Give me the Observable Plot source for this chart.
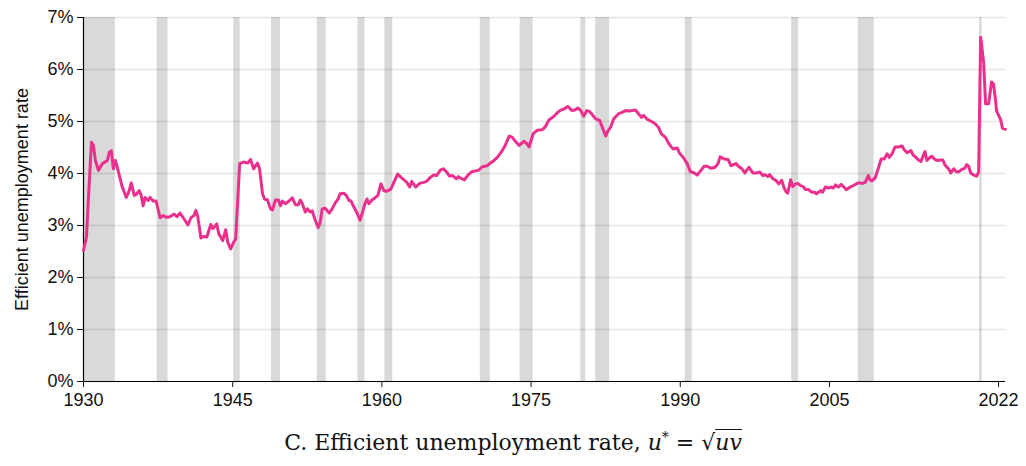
<!DOCTYPE html>
<html>
<head>
<meta charset="utf-8">
<script src="https://cdn.jsdelivr.net/npm/d3@7"></script>
<script src="https://cdn.jsdelivr.net/npm/@observablehq/plot@0.6"></script>
<style>
  html, body { margin: 0; padding: 0; background: #fff; }
  #caption {
    width: 1026px; text-align: center; margin: 0;
    font-family: "DejaVu Serif", "Liberation Serif", serif;
    font-size: 22px; line-height: 26px; color: #111;
  }
  .rad { text-decoration: overline; text-decoration-thickness: 1px; }
</style>
</head>
<body>
<div id="chart"></div>
<div id="caption">C. Efficient unemployment rate, <i>u</i><sup style="font-size:14px">*</sup> = √<span class="rad"><i>uv</i></span></div>
<script>
// Time (decimal year) and efficient unemployment rate (%)
const years = [
  1930.0,1930.3,1930.5,1930.8,1931.0,1931.2,1931.5,1931.9,1932.4,1932.6,1932.8,1933.0,1933.2,1933.4,1933.9,
  1934.3,1934.6,1934.8,1935.1,1935.3,1935.6,1935.8,1936.0,1936.2,1936.5,1936.7,1937.0,1937.3,1937.7,1938.0,
  1938.3,1938.7,1939.1,1939.4,1939.7,1940.1,1940.5,1940.8,1941.1,1941.3,1941.5,1941.8,1942.1,1942.4,1942.8,
  1943.0,1943.4,1943.6,1943.8,1944.0,1944.3,1944.5,1944.8,1945.1,1945.3,1945.7,1946.1,1946.5,1946.8,1947.1,
  1947.3,1947.5,1947.7,1948.0,1948.2,1948.5,1948.8,1949.0,1949.3,1949.6,1949.8,1950.0,1950.3,1950.6,1951.0,
  1951.3,1951.6,1951.8,1952.0,1952.3,1952.5,1952.8,1953.0,1953.3,1953.6,1953.8,1954.0,1954.3,1954.7,1955.0,
  1955.3,1955.6,1955.8,1956.2,1956.4,1956.7,1956.9,1957.2,1957.5,1957.8,1958.0,1958.3,1958.5,1958.7,1959.0,
  1959.3,1959.6,1959.9,1960.2,1960.5,1960.9,1961.2,1961.6,1961.9,1962.2,1962.5,1962.8,1963.0,1963.4,1963.8,
  1964.2,1964.5,1964.9,1965.2,1965.5,1965.9,1966.2,1966.5,1966.8,1967.1,1967.5,1967.7,1968.0,1968.3,1968.7,
  1969.1,1969.7,1970.1,1970.6,1970.9,1971.2,1971.6,1972.0,1972.4,1972.8,1973.1,1973.5,1973.8,1974.3,1974.6,
  1974.8,1975.2,1975.6,1976.1,1976.4,1976.8,1977.3,1977.7,1978.0,1978.3,1978.7,1979.1,1979.4,1979.7,1980.0,
  1980.3,1980.6,1980.9,1981.2,1981.5,1981.9,1982.1,1982.5,1982.7,1983.0,1983.3,1983.8,1984.1,1984.5,1984.8,
  1985.2,1985.5,1985.8,1986.1,1986.3,1986.7,1987.1,1987.4,1987.8,1988.1,1988.5,1988.8,1989.1,1989.3,1989.7,
  1989.9,1990.2,1990.4,1990.7,1991.0,1991.4,1991.7,1992.0,1992.4,1992.7,1993.1,1993.5,1993.8,1994.0,1994.4,
  1994.8,1995.1,1995.6,1995.9,1996.2,1996.5,1996.9,1997.3,1997.7,1998.0,1998.3,1998.5,1998.8,1999.0,1999.3,
  1999.6,1999.9,2000.2,2000.4,2000.6,2000.8,2001.1,2001.3,2001.6,2001.8,2002.1,2002.4,2002.6,2002.9,2003.2,
  2003.5,2003.7,2004.1,2004.3,2004.6,2004.9,2005.2,2005.4,2005.6,2005.9,2006.2,2006.4,2006.7,2007.1,2007.4,
  2007.9,2008.3,2008.6,2008.9,2009.1,2009.3,2009.6,2009.9,2010.2,2010.5,2010.8,2011.0,2011.3,2011.6,2011.9,
  2012.3,2012.5,2012.8,2013.2,2013.4,2013.7,2014.0,2014.2,2014.4,2014.6,2014.8,2015.1,2015.3,2015.6,2015.9,
  2016.1,2016.4,2016.6,2017.0,2017.2,2017.5,2017.7,2018.0,2018.3,2018.6,2018.8,2019.0,2019.2,2019.5,2019.8,
  2020.0,2020.2,2020.5,2020.7,2021.0,2021.3,2021.5,2021.7,2021.8,2022.0,2022.2,2022.4,2022.7
];
const rates = [
  2.52,2.78,3.54,4.60,4.54,4.25,4.06,4.19,4.25,4.41,4.44,4.09,4.25,4.12,3.74,
  3.54,3.67,3.82,3.58,3.60,3.67,3.58,3.38,3.54,3.48,3.54,3.47,3.47,3.15,3.19,
  3.16,3.17,3.22,3.17,3.24,3.13,3.01,3.15,3.19,3.29,3.16,2.76,2.79,2.78,3.02,
  2.94,3.03,2.84,2.78,2.71,2.92,2.68,2.55,2.68,2.74,4.19,4.22,4.20,4.27,4.09,
  4.15,4.20,4.09,3.61,3.51,3.49,3.32,3.30,3.49,3.49,3.38,3.47,3.42,3.46,3.53,
  3.40,3.40,3.49,3.42,3.26,3.32,3.26,3.28,3.10,2.96,3.06,3.32,3.33,3.24,3.32,
  3.43,3.51,3.61,3.62,3.58,3.48,3.47,3.35,3.24,3.10,3.22,3.42,3.51,3.42,3.49,
  3.53,3.58,3.80,3.67,3.66,3.70,3.83,3.99,3.93,3.88,3.83,3.74,3.85,3.74,3.81,
  3.83,3.85,3.93,3.97,3.96,4.07,4.09,4.03,3.95,3.96,3.90,3.94,3.90,3.88,3.98,
  4.04,4.06,4.13,4.15,4.20,4.24,4.31,4.41,4.54,4.72,4.70,4.60,4.54,4.62,4.57,
  4.51,4.76,4.83,4.84,4.89,5.03,5.10,5.18,5.22,5.24,5.29,5.21,5.22,5.26,5.21,
  5.10,5.21,5.19,5.12,5.05,5.02,4.92,4.72,4.81,4.89,5.05,5.15,5.17,5.21,5.20,
  5.21,5.22,5.15,5.08,5.12,5.04,5.00,4.97,4.89,4.76,4.70,4.59,4.51,4.47,4.49,
  4.40,4.33,4.28,4.19,4.04,4.01,3.97,4.04,4.14,4.14,4.10,4.12,4.19,4.32,4.28,
  4.27,4.15,4.19,4.13,4.09,4.01,4.12,4.01,4.01,4.03,3.96,3.98,3.94,3.98,3.90,
  3.87,3.80,3.87,3.74,3.66,3.62,3.88,3.75,3.80,3.81,3.77,3.74,3.69,3.69,3.64,
  3.64,3.61,3.67,3.64,3.74,3.72,3.74,3.72,3.78,3.74,3.79,3.75,3.69,3.74,3.77,
  3.82,3.81,3.83,3.96,3.87,3.86,3.92,4.09,4.28,4.28,4.38,4.31,4.38,4.51,4.51,
  4.53,4.46,4.40,4.44,4.36,4.31,4.25,4.23,4.33,4.42,4.25,4.31,4.33,4.27,4.25,
  4.26,4.26,4.17,4.08,4.01,4.09,4.04,4.03,4.08,4.10,4.17,4.14,4.01,3.97,3.95,
  4.03,6.62,6.14,5.34,5.34,5.76,5.72,5.40,5.21,5.12,5.04,4.87,4.85
];
// NBER recessions (start, end as decimal years)
const recessionStart = [1929.67,1937.4,1945.1,1948.9,1953.5,1957.6,1960.3,1969.9,1973.9,1980.0,1981.5,1990.5,2001.2,2007.9,2020.1];
const recessionEnd   = [1933.2, 1938.5,1945.75,1949.8,1954.4,1958.3,1961.1,1970.9,1975.2,1980.5,1982.9,1991.2,2001.9,2009.5,2020.35];
const xTicks = [1930,1945,1960,1975,1990,2005,2022];
const yTicks = [0,1,2,3,4,5,6,7];

const series = years.map((t, i) => ({t, v: rates[i]}));
const recessions = recessionStart.map((s, i) => ({s: Math.max(s, 1930), e: recessionEnd[i]}));

const chart = Plot.plot({
  width: 1026,
  height: 424,
  marginTop: 17,
  marginBottom: 43,
  marginLeft: 83,
  marginRight: 21,
  style: {fontFamily: "Liberation Sans, Arial, sans-serif", fontSize: "18px", color: "#111", background: "#fff"},
  x: {domain: [1930, 2022.7]},
  y: {domain: [0, 7]},
  marks: [
    Plot.rect(recessions, {x1: "s", x2: "e", fill: "#d9d9d9"}),
    Plot.gridY(yTicks, {stroke: "#000", strokeOpacity: 0.1, strokeWidth: 1.5}),
    Plot.axisY(yTicks, {tickFormat: d => d + "%", tickSize: 6, tickPadding: 4, label: "Efficient unemployment rate", labelAnchor: "center", labelArrow: "none", labelOffset: 68, fontSize: 18}),
    Plot.axisX(xTicks, {tickFormat: d => String(d), tickSize: 6, tickPadding: 6, label: null, fontSize: 18}),
    Plot.ruleX([1930], {stroke: "#000", strokeWidth: 1.2}),
    Plot.ruleY([0], {stroke: "#000", strokeWidth: 1.2}),
    Plot.line(series, {x: "t", y: "v", stroke: "#e8308c", strokeWidth: 3, curve: "linear"})
  ]
});
document.getElementById("chart").appendChild(chart);
</script>
</body>
</html>
